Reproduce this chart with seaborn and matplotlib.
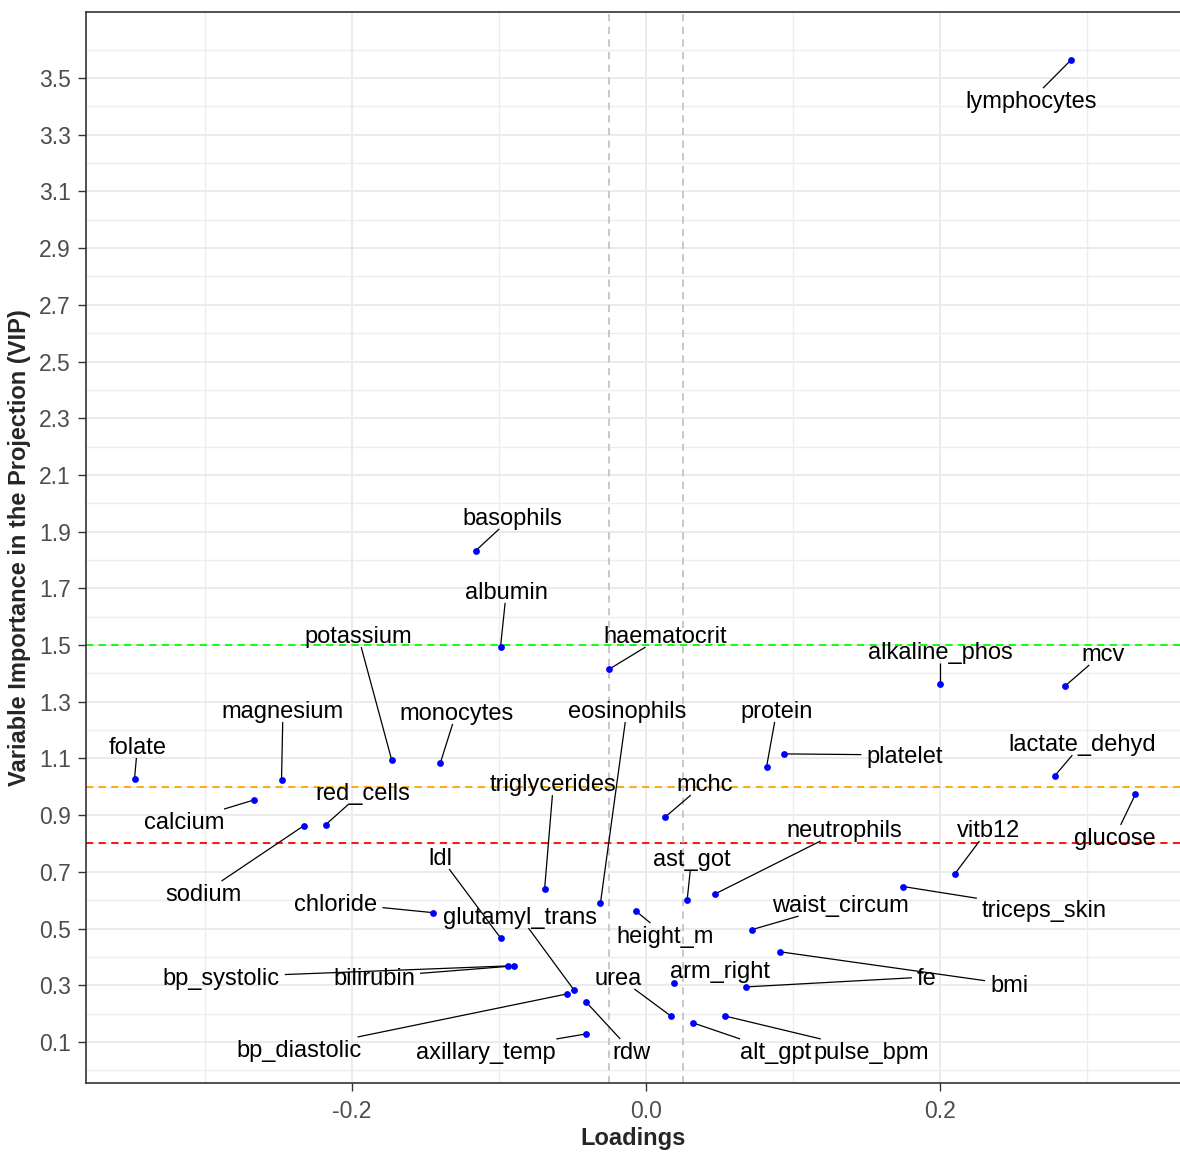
import matplotlib
matplotlib.use("Agg")
import matplotlib.pyplot as plt
import matplotlib.transforms as mtransforms
import seaborn as sns
import pandas as pd
import numpy as np

# PLS variable loadings and VIP scores
variables = [
    "lymphocytes", "basophils", "albumin", "haematocrit", "alkaline_phos", "mcv",
    "potassium", "monocytes", "magnesium", "folate", "protein", "platelet",
    "lactate_dehyd", "glucose", "calcium", "red_cells", "sodium", "mchc",
    "triglycerides", "eosinophils", "vitb12", "triceps_skin", "neutrophils",
    "ast_got", "height_m", "chloride", "ldl", "waist_circum", "bmi", "bilirubin",
    "bp_systolic", "arm_right", "fe", "urea", "pulse_bpm", "alt_gpt",
    "bp_diastolic", "glutamyl_trans", "rdw", "axillary_temp",
]
loadings = [
    0.289, -0.116, -0.099, -0.025, 0.200, 0.285,
    -0.173, -0.140, -0.248, -0.348, 0.082, 0.094,
    0.278, 0.333, -0.267, -0.218, -0.233, 0.013,
    -0.069, -0.031, 0.210, 0.175, 0.047,
    0.028, -0.007, -0.145, -0.099, 0.072, 0.091, -0.090,
    -0.094, 0.019, 0.068, 0.017, 0.054, 0.032,
    -0.054, -0.049, -0.041, -0.041,
]
vip = [
    3.563, 1.832, 1.493, 1.415, 1.364, 1.355,
    1.094, 1.083, 1.023, 1.028, 1.070, 1.116,
    1.038, 0.974, 0.953, 0.866, 0.862, 0.893,
    0.639, 0.590, 0.692, 0.648, 0.622,
    0.601, 0.562, 0.556, 0.467, 0.496, 0.418, 0.368,
    0.368, 0.307, 0.294, 0.191, 0.191, 0.167,
    0.269, 0.283, 0.242, 0.128,
]

# repelled label placement (data units)
label_x = [
    0.262, -0.091, -0.095, 0.013, 0.200, 0.311,
    -0.196, -0.129, -0.247, -0.346, 0.089, 0.176,
    0.297, 0.319, -0.314, -0.193, -0.301, 0.040,
    -0.063, -0.013, 0.233, 0.271, 0.135,
    0.031, 0.013, -0.211, -0.140, 0.132, 0.247, -0.185,
    -0.289, 0.050, 0.191, -0.019, 0.153, 0.088,
    -0.236, -0.086, -0.010, -0.109,
]
label_y = [
    3.422, 1.952, 1.691, 1.535, 1.479, 1.472,
    1.535, 1.264, 1.271, 1.144, 1.271, 1.112,
    1.154, 0.823, 0.879, 0.982, 0.625, 1.013,
    1.013, 1.271, 0.851, 0.569, 0.851,
    0.749, 0.477, 0.590, 0.752, 0.586, 0.304, 0.329,
    0.329, 0.354, 0.329, 0.329, 0.068, 0.068,
    0.075, 0.544, 0.068, 0.068,
]

x_ticks = [-0.2, 0.0, 0.2]
x_tick_labels = ["-0.2", "0.0", "0.2"]
x_minor = [-0.3, -0.1, 0.1, 0.3]
y_ticks = [0.1, 0.3, 0.5, 0.7, 0.9, 1.1, 1.3, 1.5, 1.7, 1.9, 2.1, 2.3,
           2.5, 2.7, 2.9, 3.1, 3.3, 3.5]
y_tick_labels = ["0.1", "0.3", "0.5", "0.7", "0.9", "1.1", "1.3", "1.5", "1.7",
                 "1.9", "2.1", "2.3", "2.5", "2.7", "2.9", "3.1", "3.3", "3.5"]
y_minor = [0.0, 0.2, 0.4, 0.6, 0.8, 1.0, 1.2, 1.4, 1.6, 1.8, 2.0, 2.2, 2.4,
           2.6, 2.8, 3.0, 3.2, 3.4, 3.6]

vip_cutoffs = [1.5, 1.0, 0.8]
cutoff_colors = ["#00FF00", "#FFA500", "#FF0000"]
loading_cutoffs = [-0.025, 0.025]

df = pd.DataFrame({"variable": variables, "loading": loadings, "vip": vip,
                   "lx": label_x, "ly": label_y})

sns.set_theme(style="white")
plt.rcParams["font.family"] = ["Liberation Sans", "DejaVu Sans"]

fig = plt.figure(figsize=(11.8, 11.53), dpi=100)
ax = fig.add_axes([0.0729, 0.0607, 0.9271, 0.9289])

ax.set_xlim(-0.381, 0.3633)
ax.set_ylim(-0.045, 3.733)

# grid (theme_bw style)
ax.set_xticks(x_ticks)
ax.set_xticklabels(x_tick_labels)
ax.set_xticks(x_minor, minor=True)
ax.set_yticks(y_ticks)
ax.set_yticklabels(y_tick_labels)
ax.set_yticks(y_minor, minor=True)
ax.grid(True, which="major", color="#EBEBEB", lw=1.4, zorder=0)
ax.grid(True, which="minor", color="#EDEDED", lw=1.0, zorder=0)
ax.set_axisbelow(True)
ax.tick_params(axis="both", which="major", direction="out", length=6, width=1.0,
               color="#333333", labelsize=16.5, labelcolor="#4D4D4D",
               bottom=True, left=True)
ax.tick_params(axis="y", which="major", pad=5)
ax.tick_params(axis="x", which="major", pad=6)
ax.tick_params(axis="both", which="minor", length=0)

for side in ["left", "bottom", "top"]:
    ax.spines[side].set_color("#333333")
    ax.spines[side].set_linewidth(1.2)
ax.spines["right"].set_visible(False)

for yc, col in zip(vip_cutoffs, cutoff_colors):
    ax.axhline(yc, color=col, lw=1.3, ls=(0, (4, 3)), zorder=1)
for xc in loading_cutoffs:
    ax.axvline(xc, color="#C4C4C4", lw=1.3, ls=(0, (4, 3)), zorder=1)

sns.scatterplot(data=df, x="loading", y="vip", ax=ax, color="#0000FF",
                s=24, edgecolor="#0000FF", linewidth=0, zorder=4, legend=False)

# labels nudged slightly down so the glyph body sits on the label position
label_shift = mtransforms.ScaledTranslation(0, -2 / 100, fig.dpi_scale_trans)
texts = []
for _, r in df.iterrows():
    t = ax.text(r["lx"], r["ly"], r["variable"], ha="center", va="center",
                fontsize=17, color="black", zorder=5,
                transform=ax.transData + label_shift)
    texts.append(t)

ax.set_xlabel("Loadings", fontsize=17, fontweight="bold", labelpad=3)
ax.set_ylabel("Variable Importance in the Projection (VIP)", fontsize=17,
              fontweight="bold", labelpad=6)

# connector segments from each point to its (padded) label box, aimed at the
# box centre like ggrepel does
fig.canvas.draw()
renderer = fig.canvas.get_renderer()
inv = ax.transData.inverted()
pad_side, pad_top, pad_bottom = 5.0, 3.0, -1.0
for t, (_, r) in zip(texts, df.iterrows()):
    bb = t.get_window_extent(renderer)
    x0b, x1b = bb.x0 - pad_side, bb.x1 + pad_side
    y0b, y1b = bb.y0 - pad_bottom, bb.y1 + pad_top
    cx, cy = (x0b + x1b) / 2, (y0b + y1b) / 2
    hw, hh = (x1b - x0b) / 2, (y1b - y0b) / 2
    px, py = ax.transData.transform((r["loading"], r["vip"]))
    dx, dy = px - cx, py - cy
    if abs(dx) <= hw and abs(dy) <= hh:
        continue
    f = min(hw / abs(dx) if dx != 0 else np.inf,
            hh / abs(dy) if dy != 0 else np.inf)
    ex, ey = cx + f * dx, cy + f * dy
    if np.hypot(px - ex, py - ey) < 13:
        continue
    (x0, y0), (x1, y1) = inv.transform([(px, py), (ex, ey)])
    ax.plot([x0, x1], [y0, y1], color="black", lw=0.9, zorder=3,
            solid_capstyle="butt")

fig.savefig("out.png", dpi=100)
